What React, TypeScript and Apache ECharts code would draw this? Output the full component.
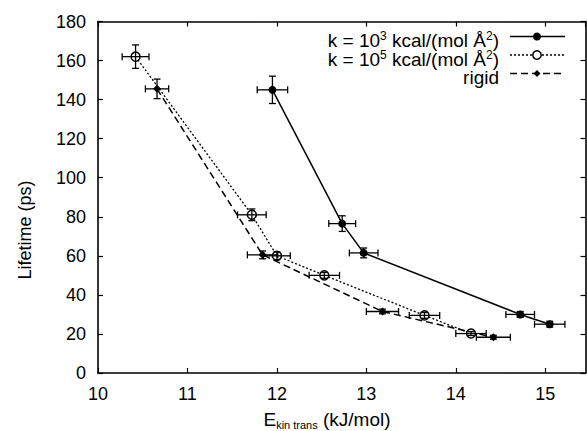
import React, { useEffect, useRef } from "react";
import * as echarts from "echarts";

// ---- data ----
const xTicks = [10, 11, 12, 13, 14, 15];
const yTicks = [0, 20, 40, 60, 80, 100, 120, 140, 160, 180];

const solidName = "k = 10^3 kcal/(mol Å^2)";
const solidX = [11.95, 12.73, 12.97, 14.72, 15.05];
const solidY = [145, 76.5, 61.5, 30, 25];
const solidXErr = [0.17, 0.15, 0.16, 0.16, 0.17];
const solidYErr = [7, 4, 2.5, 1.5, 1.5];

const openName = "k = 10^5 kcal/(mol Å^2)";
const openX = [10.42, 11.72, 12.0, 12.53, 13.65, 14.17];
const openY = [162, 81, 60, 50, 29.5, 20.2];
const openXErr = [0.15, 0.16, 0.15, 0.17, 0.17, 0.17];
const openYErr = [6, 3, 2, 1.5, 1.5, 1];

const rigidName = "rigid";
const rigidX = [10.66, 11.84, 13.18, 14.42];
const rigidY = [145.5, 60.5, 31.5, 18.3];
const rigidXErr = [0.13, 0.17, 0.18, 0.19];
const rigidYErr = [5, 2, 1.2, 1];

const FONT = "'Liberation Sans', Arial, Helvetica, sans-serif";

function pairs(xs: number[], ys: number[]) {
  return xs.map((x, i) => [x, ys[i]]);
}
function errs(xs: number[], ys: number[], xe: number[], ye: number[]) {
  return xs.map((x, i) => [x, ys[i], xe[i], ye[i]]);
}

function errorRender(params: any, api: any) {
  const x = api.value(0);
  const y = api.value(1);
  const xe = api.value(2);
  const ye = api.value(3);
  const c = api.coord([x, y]);
  const l = api.coord([x - xe, y]);
  const r = api.coord([x + xe, y]);
  const t = api.coord([x, y + ye]);
  const b = api.coord([x, y - ye]);
  const cap = 3.5;
  const st = { stroke: "#000", lineWidth: 1.3 };
  return {
    type: "group",
    children: [
      { type: "line", shape: { x1: l[0], y1: c[1], x2: r[0], y2: c[1] }, style: st },
      { type: "line", shape: { x1: l[0], y1: c[1] - cap, x2: l[0], y2: c[1] + cap }, style: st },
      { type: "line", shape: { x1: r[0], y1: c[1] - cap, x2: r[0], y2: c[1] + cap }, style: st },
      { type: "line", shape: { x1: c[0], y1: t[1], x2: c[0], y2: b[1] }, style: st },
      { type: "line", shape: { x1: c[0] - cap, y1: t[1], x2: c[0] + cap, y2: t[1] }, style: st },
      { type: "line", shape: { x1: c[0] - cap, y1: b[1], x2: c[0] + cap, y2: b[1] }, style: st },
    ],
  };
}

export default function App() {
  const ref = useRef<HTMLDivElement>(null);
  useEffect(() => {
    if (!ref.current) return;
    const chart = echarts.init(ref.current, null, { renderer: "svg" });
    const axisLine = { show: true, onZero: false, lineStyle: { color: "#000", width: 1.6 } };
    const axisTick = { show: true, inside: true, length: 5, lineStyle: { color: "#000", width: 1.2 } };
    const dotted = [2, 2];
    const dashed = [7, 4];
    const legendRows = [
      { rich: "{m|k = 10}{s|3}{m| kcal/(mol Å}{s|2}{m|)}", dash: null, sym: "solid" },
      { rich: "{m|k = 10}{s|5}{m| kcal/(mol Å}{s|2}{m|)}", dash: dotted, sym: "open" },
      { rich: "{m|rigid}", dash: dashed, sym: "diamond" },
    ];
    const legendGraphics: any[] = [];
    legendRows.forEach((row, i) => {
      const y = 36.5 + i * 18.5;
      legendGraphics.push({
        type: "text",
        x: 499,
        y: y + 3.5,
        style: {
          text: row.rich,
          align: "right",
          verticalAlign: "middle",
          fill: "#000",
          rich: {
            m: { fontSize: 19, fontFamily: FONT, lineHeight: 20, verticalAlign: "bottom", fill: "#000" },
            s: { fontSize: 12, fontFamily: FONT, lineHeight: 6, verticalAlign: "top", fill: "#000" },
          },
        },
      });
      legendGraphics.push({
        type: "line",
        shape: { x1: 510, y1: y, x2: 565, y2: y },
        style: { stroke: "#000", lineWidth: 1.3, lineDash: row.dash || undefined },
      });
      if (row.sym === "solid") {
        legendGraphics.push({ type: "circle", shape: { cx: 537, cy: y, r: 4 }, style: { fill: "#000" } });
      } else if (row.sym === "open") {
        legendGraphics.push({
          type: "circle",
          shape: { cx: 537, cy: y, r: 4.2 },
          style: { fill: "#fff", stroke: "#000", lineWidth: 1.5 },
        });
      } else {
        legendGraphics.push({
          type: "polygon",
          shape: { points: [[537, y - 3.5], [540.5, y], [537, y + 3.5], [533.5, y]] },
          style: { fill: "#000" },
        });
      }
    });

    const option: any = {
      animation: false,
      backgroundColor: "#fff",
      grid: { left: 98, right: 1.5, top: 21.5, bottom: 58, containLabel: false },
      xAxis: [
        {
          type: "value",
          min: 10,
          max: 15.45,
          interval: 1,
          position: "bottom",
          axisLine,
          axisTick,
          splitLine: { show: false },
          axisLabel: {
            showMaxLabel: false,
            color: "#000",
            fontSize: 18,
            fontFamily: FONT,
            margin: 12,
            formatter: (v: number) => (xTicks.indexOf(v) >= 0 ? String(v) : ""),
          },
        },
        {
          type: "value",
          min: 10,
          max: 15.45,
          interval: 1,
          position: "top",
          axisLine,
          axisTick,
          splitLine: { show: false },
          axisLabel: { show: false },
        },
      ],
      yAxis: [
        {
          type: "value",
          min: 0,
          max: 180,
          interval: 20,
          position: "left",
          axisLine,
          axisTick,
          splitLine: { show: false },
          axisLabel: {
            color: "#000",
            fontSize: 18,
            fontFamily: FONT,
            margin: 12,
            formatter: (v: number) => (yTicks.indexOf(v) >= 0 ? String(v) : ""),
          },
        },
        {
          type: "value",
          min: 0,
          max: 180,
          interval: 20,
          position: "right",
          axisLine,
          axisTick,
          splitLine: { show: false },
          axisLabel: { show: false },
        },
      ],
      series: [
        {
          name: solidName,
          type: "line",
          data: pairs(solidX, solidY),
          symbol: "circle",
          symbolSize: 8,
          itemStyle: { color: "#000" },
          lineStyle: { color: "#000", width: 1.5, type: "solid" },
          z: 3,
        },
        {
          name: openName,
          type: "line",
          data: pairs(openX, openY),
          symbol: "circle",
          symbolSize: 9,
          itemStyle: { color: "#fff", borderColor: "#000", borderWidth: 1.5 },
          lineStyle: { color: "#000", width: 1.3, type: dotted },
          z: 3,
        },
        {
          name: rigidName,
          type: "line",
          data: pairs(rigidX, rigidY),
          symbol: "diamond",
          symbolSize: 8,
          itemStyle: { color: "#000" },
          lineStyle: { color: "#000", width: 1.5, type: dashed },
          z: 3,
        },
        {
          type: "custom",
          renderItem: errorRender,
          data: errs(solidX, solidY, solidXErr, solidYErr),
          encode: { x: 0, y: 1 },
          z: 4,
        },
        {
          type: "custom",
          renderItem: errorRender,
          data: errs(openX, openY, openXErr, openYErr),
          encode: { x: 0, y: 1 },
          z: 4,
        },
        {
          type: "custom",
          renderItem: errorRender,
          data: errs(rigidX, rigidY, rigidXErr, rigidYErr),
          encode: { x: 0, y: 1 },
          z: 4,
        },
      ],
      graphic: [
        {
          type: "text",
          x: 25,
          y: 230,
          rotation: Math.PI / 2,
          style: {
            text: "Lifetime (ps)",
            align: "center",
            verticalAlign: "middle",
            fontSize: 18,
            fontFamily: FONT,
            fill: "#000",
          },
        },
        {
          type: "text",
          x: 327,
          y: 420,
          style: {
            text: "{m|E}{b|kin trans}{m| (kJ/mol)}",
            align: "center",
            verticalAlign: "middle",
            fill: "#000",
            rich: {
              m: { fontSize: 19, fontFamily: FONT, lineHeight: 20, verticalAlign: "top", fill: "#000" },
              b: { fontSize: 11, fontFamily: FONT, lineHeight: 10, verticalAlign: "bottom", fill: "#000" },
            },
          },
        },
        ...legendGraphics,
      ],
    };
    chart.setOption(option);
    return () => chart.dispose();
  }, []);
  return (
    <div
      ref={ref}
      style={{ position: "fixed", left: 0, top: 0, width: 587, height: 431, background: "#fff" }}
    />
  );
}
